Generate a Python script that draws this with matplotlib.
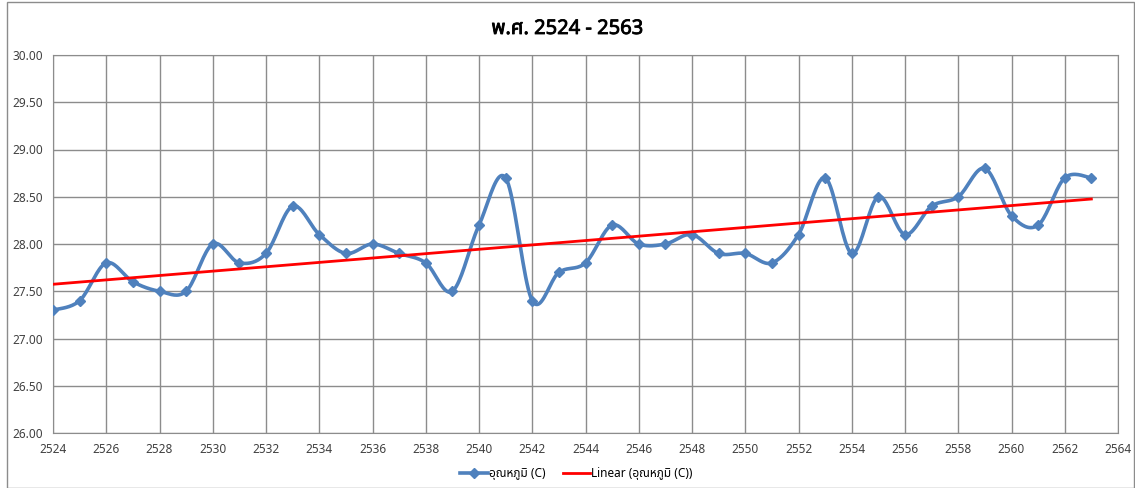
import numpy as np
import matplotlib.pyplot as plt
import matplotlib.patheffects as pe
from matplotlib.patches import Rectangle

plt.rcParams['font.family'] = ['Noto Sans', 'Noto Sans Thai', 'DejaVu Sans']

years = list(range(2524, 2564))
temp = [27.3, 27.4, 27.8, 27.6, 27.5, 27.5, 28.0, 27.8, 27.9, 28.4,
        28.1, 27.9, 28.0, 27.9, 27.8, 27.5, 28.2, 28.7, 27.4, 27.7,
        27.8, 28.2, 28.0, 28.0, 28.1, 27.9, 27.9, 27.8, 28.1, 28.7,
        27.9, 28.5, 28.1, 28.4, 28.5, 28.8, 28.3, 28.2, 28.7, 28.7]

title = 'พ.ศ. 2524 - 2563'
series_label = 'อุณหภูมิ (C)'
trend_label = 'Linear (อุณหภูมิ (C))'


def smooth(x, y, n=20):
    # excel-like smoothed line (catmull-rom bezier)
    x = np.asarray(x, float)
    y = np.asarray(y, float)
    px = np.concatenate([[x[0]], x, [x[-1]]])
    py = np.concatenate([[y[0]], y, [y[-1]]])
    xs, ys = [], []
    t = np.linspace(0, 1, n, endpoint=False)
    for i in range(1, len(px) - 2):
        p0 = np.array([px[i], py[i]])
        p3 = np.array([px[i + 1], py[i + 1]])
        p1 = p0 + (np.array([px[i + 1], py[i + 1]]) - np.array([px[i - 1], py[i - 1]])) / 6
        p2 = p3 - (np.array([px[i + 2], py[i + 2]]) - np.array([px[i], py[i]])) / 6
        b = ((1 - t) ** 3)[:, None] * p0 + (3 * (1 - t) ** 2 * t)[:, None] * p1 \
            + (3 * (1 - t) * t ** 2)[:, None] * p2 + (t ** 3)[:, None] * p3
        xs.extend(b[:, 0])
        ys.extend(b[:, 1])
    xs.append(x[-1])
    ys.append(y[-1])
    return xs, ys


sx, sy = smooth(years, temp)
k, b = np.polyfit(years, temp, 1)
trend = [k * years[0] + b, k * years[-1] + b]

blue = '#4F81BD'

f = plt.figure(figsize=(11.35, 4.88), dpi=100)
ax = f.add_axes([53 / 1135, 1 - 433 / 488, (1118 - 53) / 1135, (433 - 55) / 488])

ax.plot(sx, sy, color=blue, lw=2.6, zorder=3)
ax.plot(years, temp, ls='none', marker='D', ms=5.5, color=blue, zorder=4)
ax.plot([years[0], years[-1]], trend, color='#FF0000', lw=2, zorder=5)

# legend handles
h1, = ax.plot([], [], color=blue, lw=2.6, marker='D', ms=5)
h2, = ax.plot([], [], color='#FF0000', lw=2)

ax.set_xlim(2524, 2564)
ax.set_ylim(26, 30)
ax.set_xticks(range(2524, 2565, 2))
ax.set_yticks(np.arange(26, 30.01, 0.5))
ax.yaxis.set_major_formatter(plt.FormatStrFormatter('%.2f'))
ax.grid(color='#8c8c8c', lw=1)
ax.set_axisbelow(True)
for s in ax.spines.values():
    s.set_color('#8c8c8c')
ax.tick_params(labelsize=8.5, colors='#404040', length=0, pad=7)

f.text(0.5, 1 - 29 / 488, title, ha='center', va='center', fontsize=14.5, fontweight='bold',
       path_effects=[pe.withStroke(linewidth=0.6, foreground='black')])

f.legend([h1, h2], [series_label, trend_label], loc='center', bbox_to_anchor=(0.508, 1 - 474 / 488),
         ncol=2, frameon=False, fontsize=8.5, handlelength=2.3, handletextpad=0.1, columnspacing=1.5)

f.patches.append(Rectangle((7 / 1135, 0.0), 1 - 8 / 1135, 1 - 2 / 488, transform=f.transFigure,
                           fill=False, ec='#8c8c8c', lw=1))

plt.savefig('out.png', dpi=100)
